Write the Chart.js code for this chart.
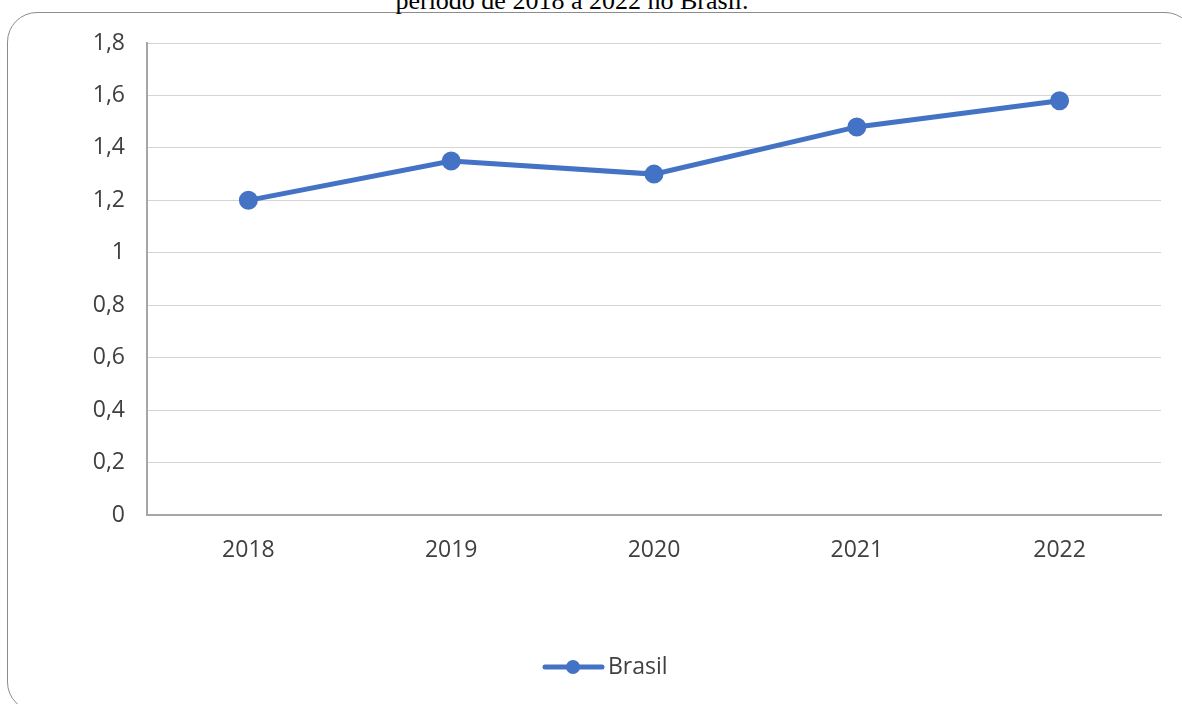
<!DOCTYPE html>
<html>
<head>
<meta charset="utf-8">
<script src="https://cdn.jsdelivr.net/npm/chart.js@4/dist/chart.umd.min.js"></script>
<style>
  body { margin: 0; background: #fff; overflow: hidden; }
  #wrap { position: relative; width: 1182px; height: 704px; overflow: hidden; }
  #frame {
    position: absolute; left: 7px; top: 12px; width: 1188px; height: 700px;
    border: 1.5px solid #8c8c8c; border-radius: 30px; box-sizing: border-box;
  }
  #title {
    position: absolute; left: 0; width: 1144px; top: -12px; text-align: center;
    font-family: "Liberation Serif", "Times New Roman", serif; font-size: 26px;
    line-height: 1; color: #000;
  }
  #cv { position: absolute; left: 0; top: 0; }
</style>
</head>
<body>
<div id="wrap">
  <div id="frame"></div>
  <div id="title">período de 2018 a 2022 no Brasil.</div>
  <canvas id="cv" width="1182" height="704"></canvas>
</div>
<script>
// dados
var anos = ["2018", "2019", "2020", "2021", "2022"];
var brasil = [1.2, 1.35, 1.3, 1.48, 1.58];
var serieNome = "Brasil";
var azul = "#4472C4";

var fonte = "'Open Sans', 'Liberation Sans', sans-serif";

// legenda desenhada embaixo (linha + bolinha + texto)
var legendaPlugin = {
  id: "legendaBrasil",
  afterDraw: function (chart) {
    var ctx = chart.ctx;
    var y = 667;
    ctx.save();
    ctx.strokeStyle = azul;
    ctx.lineWidth = 5;
    ctx.lineCap = "round";
    ctx.beginPath();
    ctx.moveTo(545, y);
    ctx.lineTo(602, y);
    ctx.stroke();
    ctx.fillStyle = azul;
    ctx.beginPath();
    ctx.arc(573, y, 7, 0, Math.PI * 2);
    ctx.fill();
    ctx.fillStyle = "#404040";
    ctx.font = "23px " + fonte;
    ctx.textBaseline = "middle";
    ctx.fillText(serieNome, 608, y);
    ctx.restore();
  }
};

new Chart(document.getElementById("cv"), {
  type: "line",
  data: {
    labels: anos,
    datasets: [{
      label: serieNome,
      data: brasil,
      borderColor: azul,
      backgroundColor: azul,
      borderWidth: 5,
      pointRadius: 7,
      pointHoverRadius: 7,
      tension: 0
    }]
  },
  options: {
    responsive: false,
    animation: false,
    layout: { padding: { top: 43, right: 21, left: 0, bottom: 0 } },
    plugins: {
      legend: { display: false },
      tooltip: { enabled: false }
    },
    scales: {
      x: {
        offset: true,
        grid: { display: false, drawTicks: false },
        border: { color: "#a6a6a6", width: 2 },
        ticks: { color: "#404040", font: { family: fonte, size: 23 }, padding: 22 },
        afterFit: function (s) { s.height = 189; }
      },
      y: {
        min: 0,
        max: 1.8,
        grid: { color: "#d4d4d4", lineWidth: 1, drawTicks: false },
        border: { color: "#a6a6a6", width: 2 },
        ticks: {
          stepSize: 0.2,
          color: "#404040",
          font: { family: fonte, size: 23 },
          padding: 22,
          callback: function (v) {
            return (Math.round(v * 10) / 10).toString().replace(".", ",");
          }
        },
        afterFit: function (s) { s.width = 147; }
      }
    }
  },
  plugins: [legendaPlugin]
});
</script>
</body>
</html>
